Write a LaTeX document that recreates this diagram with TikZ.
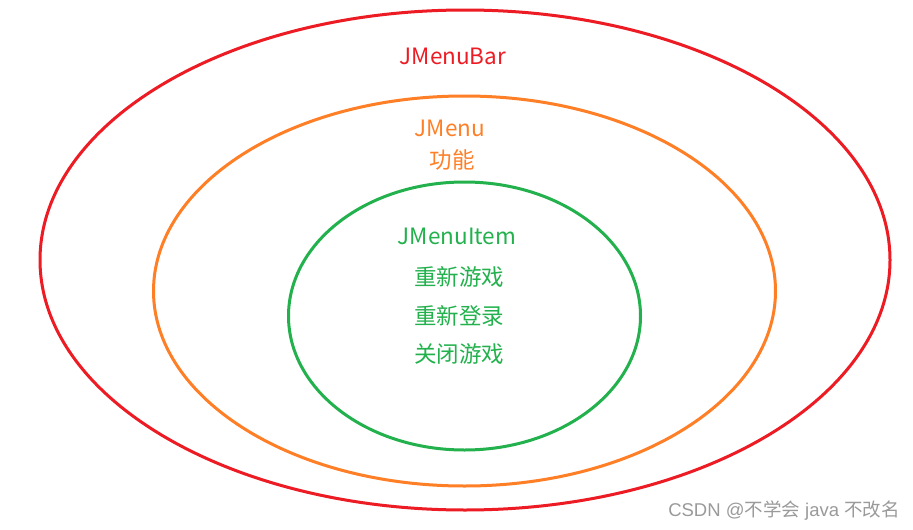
\documentclass[tikz,border=0pt]{standalone}
\usepackage{fontspec}
\setmainfont{Noto Sans CJK SC}
\newfontfamily\latinwm{Liberation Sans}
\definecolor{pred}{HTML}{ED1C24}
\definecolor{porange}{HTML}{FF7F27}
\definecolor{pgreen}{HTML}{22B14C}
\definecolor{wm}{HTML}{9A9A9A}
\begin{document}
\begin{tikzpicture}[x=1pt,y=-1pt,
  ring/.style={line width=3pt},
  lbl/.style={font=\fontsize{22.5}{26}\selectfont, inner sep=0pt, anchor=center}]
\useasboundingbox (0,0) rectangle (913,530);
\fill[white] (0,0) rectangle (913,530);
\draw[ring, pred] (465,260) ellipse [x radius=425, y radius=250];
\draw[ring, porange] (464.5,291) ellipse [x radius=311, y radius=195];
\draw[ring, pgreen] (464.5,316) ellipse [x radius=176, y radius=134];
\node[lbl, text=pred] (bar) at (453,56) {JMenuBar};
\node[lbl, text=porange] (menu) at (450,128) {JMenu};
\node[lbl, text=porange] (gn) at (452,160) {功能};
\node[lbl, text=pgreen] (item) at (457,236) {JMenuItem};
\node[lbl, text=pgreen] (i1) at (459,277) {重新游戏};
\node[lbl, text=pgreen] (i2) at (459,316) {重新登录};
\node[lbl, text=pgreen] (i3) at (459,354) {关闭游戏};
\node[font=\fontsize{18.5}{22}\selectfont, text=wm, inner sep=0pt, anchor=east] (wmk) at (900,511) {{\latinwm CSDN @}不学会{\latinwm\ java }不改名};
\end{tikzpicture}
\end{document}
